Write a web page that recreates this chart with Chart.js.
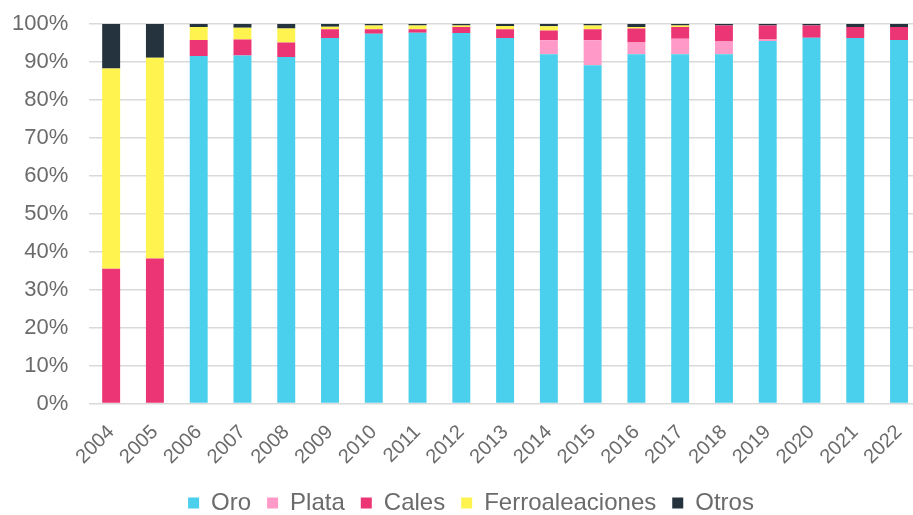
<!DOCTYPE html>
<html>
<head>
<meta charset="utf-8">
<script src="https://cdn.jsdelivr.net/npm/chart.js@4.4.1/dist/chart.umd.min.js"></script>
<style>
  html, body { margin: 0; padding: 0; background: #fff; overflow: hidden; }
  #caja { width: 945px; height: 515px; margin-left: -20px; }
</style>
</head>
<body>
<div id="caja"><canvas id="grafica"></canvas></div>
<script>
// datos (porcentaje por año)
var anios = ['2004','2005','2006','2007','2008','2009','2010','2011','2012','2013','2014','2015','2016','2017','2018','2019','2020','2021','2022'];
var oro   = [0, 0, 91.6, 91.7, 91.3, 96.3, 97.4, 97.7, 97.6, 96.3, 92.0, 89.1, 92.0, 92.0, 92.0, 95.5, 96.4, 96.3, 95.8];
var plata = [0, 0, 0, 0, 0, 0, 0, 0, 0, 0, 3.7, 6.6, 3.1, 4.1, 3.4, 0.4, 0, 0, 0];
var cales = [35.5, 38.2, 4.2, 4.2, 3.8, 2.3, 1.2, 0.9, 1.6, 2.3, 2.6, 2.9, 3.7, 3.1, 4.2, 3.7, 3.2, 2.9, 3.4];
var ferro = [52.8, 52.9, 3.4, 3.1, 3.7, 0.7, 1.0, 1.0, 0.4, 0.9, 1.1, 1.0, 0.4, 0.4, 0, 0, 0, 0, 0];
var otros = [11.7, 8.9, 0.8, 1.0, 1.2, 0.7, 0.4, 0.4, 0.4, 0.5, 0.6, 0.4, 0.8, 0.4, 0.4, 0.4, 0.4, 0.8, 0.8];

var gris = '#6b6b6b';
Chart.defaults.font.family = '"Liberation Sans", Arial, sans-serif';
Chart.defaults.color = gris;

function serie(nombre, datos, color) {
  return {
    label: nombre,
    data: datos,
    backgroundColor: color,
    borderWidth: 0,
    categoryPercentage: 1,
    barPercentage: 0.41
  };
}

// mueve la leyenda un poco (como en el original)
var moverLeyenda = {
  id: 'moverLeyenda',
  afterLayout: function (chart) {
    var l = chart.legend;
    l.left += 13; l.right += 13;
    l.top -= 3; l.bottom -= 3;
  }
};

var grafica = new Chart(document.getElementById('grafica'), {
  type: 'bar',
  data: {
    labels: anios,
    datasets: [
      serie('Oro', oro, '#4acfec'),
      serie('Plata', plata, '#ff99c8'),
      serie('Cales', cales, '#ec3575'),
      serie('Ferroaleaciones', ferro, '#fff44f'),
      serie('Otros', otros, '#24333e')
    ]
  },
  plugins: [moverLeyenda],
  options: {
    responsive: true,
    maintainAspectRatio: false,
    animation: false,
    layout: { padding: { top: 0, left: 11, right: 0, bottom: -13 } },
    plugins: {
      tooltip: { enabled: false },
      legend: {
        position: 'bottom',
        labels: {
          boxWidth: 11,
          boxHeight: 11,
          padding: 16,
          font: { size: 24 },
          color: gris
        }
      }
    },
    scales: {
      x: {
        stacked: true,
        grid: { display: false },
        border: { display: false },
        ticks: {
          maxRotation: 45,
          minRotation: 45,
          autoSkip: false,
          padding: 9,
          font: { size: 20 },
          color: gris
        }
      },
      y: {
        stacked: true,
        min: 0,
        max: 100,
        border: { display: false },
        grid: { color: '#d9d9d9', lineWidth: 1.5, drawTicks: false },
        afterFit: function (escala) {
          // el padding de las etiquetas no debe bajar el 100%
          escala.paddingTop = 24;
        },
        ticks: {
          stepSize: 10,
          padding: 21,
          font: { size: 22 },
          color: gris,
          callback: function (v) { return v + '%'; }
        }
      }
    }
  }
});
</script>
</body>
</html>
